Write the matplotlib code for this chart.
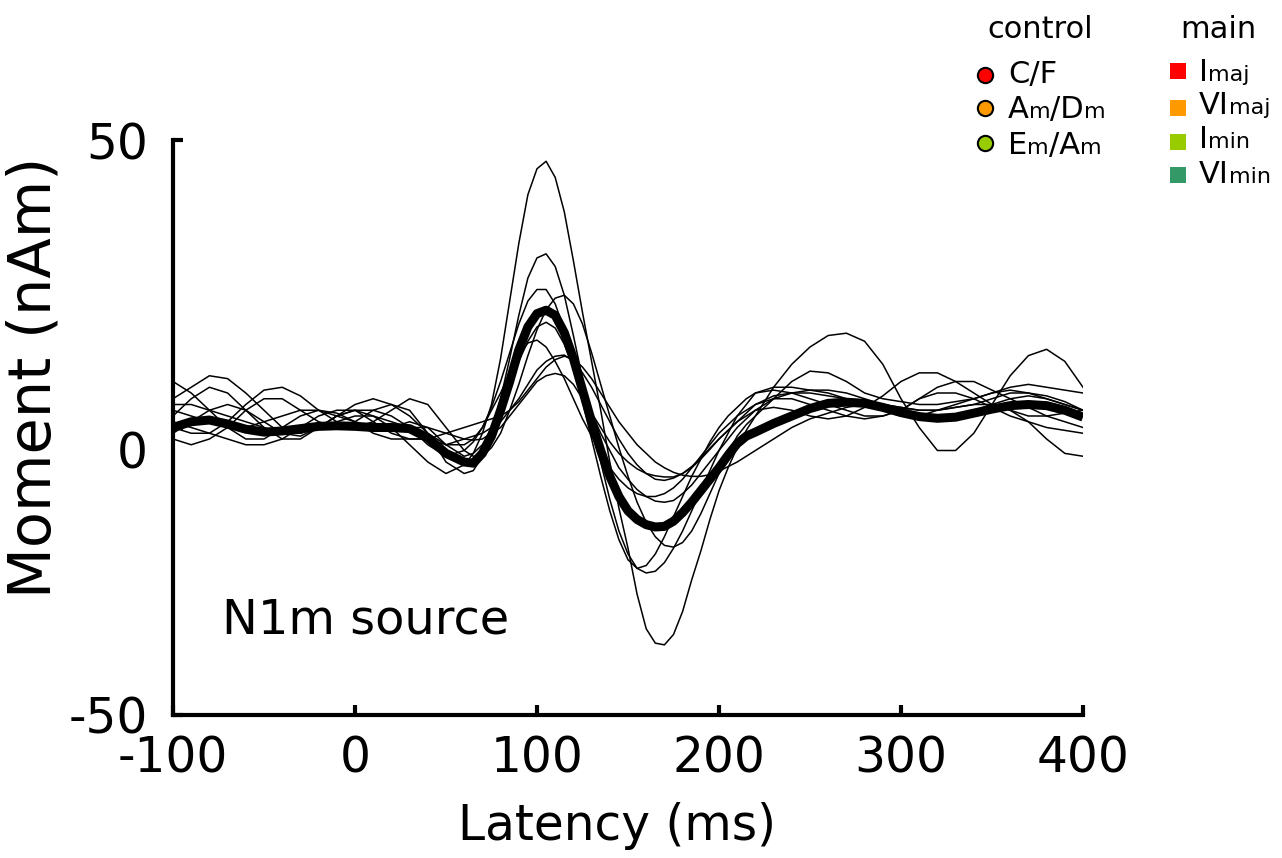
#!/usr/bin/env python
"""
N1m source waveforms: individual thin traces plus the thick grand average.
"""
import matplotlib
matplotlib.use("Agg")
import matplotlib.pyplot as plt
from matplotlib.lines import Line2D
from matplotlib.transforms import ScaledTranslation

plt.rcParams['font.family'] = ['DejaVu Sans']
plt.rcParams['axes.unicode_minus'] = False

# 10 ms steps outside the response, 5 ms steps through N1m (60-215 ms)
latency = list(range(-100, 60, 10)) + list(range(60, 220, 5)) + list(range(220, 401, 10))

# individual source waveforms (nAm)
trace_a = ([2, 5, 7, 6, 3, 0, -2, -2, 0, 2, 3, 2, 0, -3, -6, -8] +
           [-6.5, -4.5, -1, 4, 12, 22, 32, 40.5, 45, 46.3, 43.5, 37.5, 29, 20, 11.5, 3,
            -6, -14, -21, -29, -35, -37.5, -37.8, -36, -32, -26.5, -21.5, -16, -11, -7, -3.5, -0.5] +
           [2, 7, 11, 14, 16, 16.4, 15, 11, 5, 0, -4, -4, -1, 4, 9, 12.5, 13.6, 11.5, 7])
trace_b = ([-2, -3, -2, 0, 3, 5, 5, 3, 1, 0, 1, 3, 4, 3, -1, -6] +
           [-8, -7.5, -5, -0.5, 5, 12, 19.5, 26, 29.5, 30.2, 28, 23, 16, 8.5, 1, -6,
            -12.5, -18, -22, -24.5, -25.3, -25, -23.5, -21, -18, -14.5, -11, -7.5, -4, -1, 2, 4] +
           [6, 7, 7, 6.5, 6, 5, 4, 3, 2, 2, 3, 4, 5, 6, 6.5, 6, 5, 4, 3])
trace_c = ([5, 7, 9, 8.5, 6, 3, 0, -1, 0, 2, 3, 3, 2, 0, -3, -5] +
           [-4, -2.5, 0, 3.5, 8, 13, 18, 22, 24, 24, 21.5, 17, 11, 4.5, -2, -8.5,
            -14.5, -19.5, -23, -24.5, -24, -22, -19, -15.5, -12, -8.5, -5.5, -2.5, 0, 2, 3.5, 5] +
           [6, 6.5, 6, 5, 4, 3, 2, 2, 3, 5, 7, 8, 8, 6.5, 5, 3.5, 2, 1, 0])
trace_d = ([0, -1, -1, 1, 4, 6.5, 7, 5.5, 3, 1, 0, 1, 3, 5, 4, 0] +
           [-4, -5, -5, -3.5, -1, 3, 7.5, 12.5, 17, 20.5, 22.5, 23, 21.5, 18, 13, 7.5,
            2, -3.5, -8.5, -13, -16.5, -19, -20.5, -20.8, -20, -18, -15, -11.5, -8, -4.5, -1.5, 0.5] +
           [2, 5, 8, 9.8, 9.5, 8, 6, 5, 4.5, 4, 4, 4.5, 5, 6, 7, 7.5, 7, 6.5, 6])
trace_e = ([3, 2, 1, 0, 0, 1, 2, 3, 3, 2, 1, 0, 0, 1, 0, -3] +
           [-5, -4.5, -3, 0, 3.5, 7.5, 11.5, 15, 17.5, 18.3, 17.3, 14.5, 10.5, 6.5, 2.5, -1,
            -4, -7, -9, -10.8, -12, -12.8, -13, -12.7, -11.5, -10, -8, -6, -4, -2, 0, 1.5] +
           [3, 5, 6, 6.5, 6.5, 6, 5, 4, 3.5, 3, 3, 3.5, 4, 5, 6, 6, 5.5, 4.5, 3])
trace_f = ([8, 6, 3, 0, -2, -2, 0, 2, 3, 2.5, 1, -1, -2, -2, -2, -3] +
           [-3, -2, 0, 3, 6, 9.5, 12.5, 14.7, 15.2, 14, 11.5, 8.5, 5, 1.5, -1.5, -4.5,
            -7, -9, -10.5, -11.5, -12, -12, -11.5, -10.5, -9, -7, -5, -3, -1, 0.5, 2, 3] +
           [4, 5, 5, 4, 3, 2, 1.5, 2, 3, 5, 6, 6, 5, 3.5, 2, 1, 0, -0.5, -1])
trace_g = ([-1, 1, 3, 4, 3, 1, -1, -1.5, 0, 2, 4, 5, 4, 2, -1, -3] +
           [-2, -1.5, -1, 0, 1, 3, 5, 7.5, 10, 11.5, 12.4, 12.6, 11.5, 9.5, 7, 4,
            1, -2, -4.5, -6.5, -8, -9, -9.2, -8.8, -8, -6.8, -5.3, -3.6, -2, -0.5, 1, 2] +
           [3, 3.5, 3, 2, 1.5, 2, 3.5, 5.5, 8, 9.5, 9.5, 8, 6, 4, 3, 2, 2, 2.5, 3])
trace_h = ([4, 4, 3, 2, 1, 0, -1, -1, 0, 1, 2, 2, 1, 0, 0, -1] +
           [-2, -2.2, -2, -1, 0, 2, 4, 6, 8, 9, 9.4, 9, 7.5, 5, 2.5, 0,
            -2.5, -4.5, -6, -7.2, -8, -8.4, -8.6, -8.6, -8, -7, -5.5, -3.8, -2, -0.5, 1, 2.5] +
           [4, 5.5, 6, 6, 5.5, 5, 4, 3, 2, 1.5, 1.5, 2, 3, 4, 5, 5.5, 5, 4, 3])
trace_i = ([1, 0, -1, -2, -3, -3, -2, 0, 2, 3, 3, 1, -1, -2, -2, -1] +
           [0, 0.5, 1, 1.5, 2, 3, 4.5, 6.5, 8.5, 10.5, 11.8, 12.4, 12, 10.5, 8.5, 6,
            3.5, 1, -1, -3, -4.5, -6, -7, -7.8, -8.3, -8.5, -8.5, -8.2, -7.6, -6.8, -6, -5] +
           [-4, -2, 0, 1.5, 2.5, 3.5, 4, 4, 3.5, 3, 3, 3.5, 4, 4, 3, 1, -2, -4.5, -5])
traces = [trace_a, trace_b, trace_c, trace_d, trace_e, trace_f, trace_g, trace_h, trace_i]

# grand average (thick line)
mean_trace = ([0.0, 1.0, 1.3, 0.6, -0.3, -0.8, -0.6, -0.2, 0.2, 0.3, 0.2, 0.0, 0.0, -0.2, -1.8, -4.5] +
              [-6.0, -6.2, -4.5, -1.5, 3.0, 8.0, 13.5, 17.5, 19.8, 20.4, 19.5, 16.5, 12.0, 6.5, 1.0, -4.0,
               -8.5, -12.0, -14.5, -16.0, -16.9, -17.3, -17.2, -16.3, -14.8, -13.0, -11.0, -9.0, -7.0,
               -4.8, -2.8, -1.5] +
              [-0.8, 0.7, 2.0, 3.3, 4.2, 4.4, 4.2, 3.5, 2.6, 1.9, 1.6, 1.8, 2.5, 3.2, 3.8, 4.0, 3.8, 3.0, 1.8])

# legend entries: (text, is_subscript) pieces
control_labels = [[("C/F", False)],
                  [("A", False), ("m", True), ("/D", False), ("m", True)],
                  [("E", False), ("m", True), ("/A", False), ("m", True)]]
control_colors = ["#ff0000", "#ff9900", "#99cc00"]
main_labels = [[("I", False), ("maj", True)],
               [("VI", False), ("maj", True)],
               [("I", False), ("min", True)],
               [("VI", False), ("min", True)]]
main_colors = ["#ff0000", "#ff9900", "#99cc00", "#339966"]

W, H = 1282, 858
fig = plt.figure(figsize=(W/100, H/100), dpi=100)
ax = fig.add_axes([173/W, 1-715/H, 910/W, 575/H])

for tr in traces:
    ax.plot(latency, tr, color="black", lw=1.1, solid_joinstyle="round")
ax.plot(latency, mean_trace, color="black", lw=6.5, solid_joinstyle="round",
        solid_capstyle="butt")

ax.set_xlim(-100, 400)
ax.set_ylim(-50, 50)
ax.set_xticks([-100, 0, 100, 200, 300, 400])
ax.set_yticks([-50, 0, 50])
for s in ["top", "right"]:
    ax.spines[s].set_visible(False)
for s in ["left", "bottom"]:
    ax.spines[s].set_linewidth(3)
    ax.spines[s].set_capstyle("projecting")
ax.tick_params(direction="in", length=7, width=3, labelsize=35, pad=14)
ax.tick_params(axis="y", pad=18)

# the 0 label sits a bit below its tick in the original
lbl0 = ax.get_yticklabels()[1]
lbl0.set_transform(lbl0.get_transform() + ScaledTranslation(0, -0.22, fig.dpi_scale_trans))

fig.text(617/W, 1-826/H, "Latency (ms)", ha="center", va="center", fontsize=35)
fig.text(34/W, 1-377/H, "Moment (nAm)", ha="center", va="center",
         fontsize=42.5, rotation=90)
ax.text(0.054, 0.165, "N1m source", transform=ax.transAxes, ha="left",
        va="center", fontsize=34.5)


def rich_text(px, baseline, pieces, size=22, sub_size=16):
    """Write text pieces on one baseline, small pieces as subscript-like text."""
    renderer = fig.canvas.get_renderer()
    x = px / W
    for s, small in pieces:
        t = fig.text(x, 1-baseline/H, s, ha="left", va="baseline",
                     fontsize=sub_size if small else size)
        bb = t.get_window_extent(renderer)
        x = bb.x1 / W


# legend drawn by hand
fig.text(1040/W, 1-38/H, "control", ha="center", va="baseline", fontsize=22)
fig.text(1218/W, 1-38/H, "main", ha="center", va="baseline", fontsize=22)
for lab, col, py, base in zip(control_labels, control_colors, [75, 108, 143], [83, 118, 154]):
    fig.add_artist(Line2D([985/W], [1-py/H], marker="o", ms=11, mfc=col,
                          mec="black", mew=1.5, transform=fig.transFigure))
    rich_text(1008, base, lab)
for lab, col, py, base in zip(main_labels, main_colors, [71, 108, 142, 175], [81, 114, 148, 183]):
    fig.add_artist(Line2D([1178/W], [1-py/H], marker="s", ms=12, mfc=col,
                          mec=col, mew=0, transform=fig.transFigure))
    rich_text(1199, base, lab)

fig.savefig("out.png", dpi=100)
